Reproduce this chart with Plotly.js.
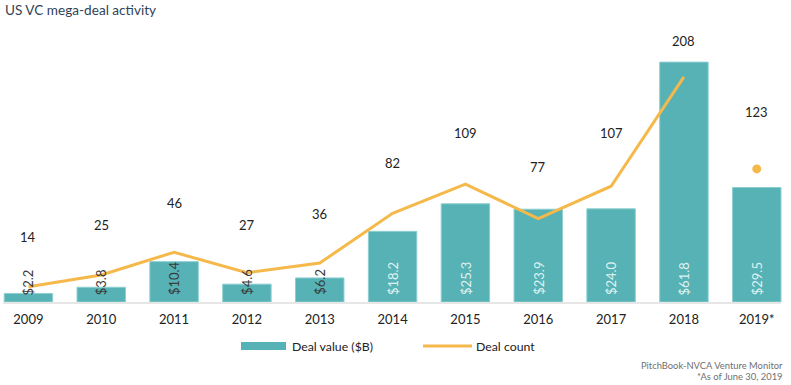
<!DOCTYPE html>
<html>
<head>
<meta charset="utf-8">
<script src="https://cdn.plot.ly/plotly-3.0.1.min.js"></script>
<style>html,body{margin:0;padding:0;background:#fff;}#chart{width:791px;height:385px;}</style>
</head>
<body>
<div id="chart"></div>
<script>
// ---- data ----
const years = ['2009','2010','2011','2012','2013','2014','2015','2016','2017','2018','2019*'];
const dealValue = [2.2, 3.8, 10.4, 4.6, 6.2, 18.2, 25.3, 23.9, 24.0, 61.8, 29.5];
const dealCount = [14, 25, 46, 27, 36, 82, 109, 77, 107, 208, 123];
// style: pixel lift of each count label above its point
const countLabelLift = [50, 50, 49, 48, 49, 50, 51, 52, 53, 36, 57];

const TEAL = '#56b2b4';
const GOLD = '#f5b94b';
const FONT = 'Lato, "Open Sans", sans-serif';
const W = 791, H = 385, PLOT_BOTTOM = 302;
const px2x = p => p / W;
const py2y = p => (PLOT_BOTTOM - p) / PLOT_BOTTOM;

const nLine = dealCount.length - 1; // line stops at 2018; 2019 is a partial-year dot

const traces = [
  {
    type: 'bar', x: years, y: dealValue, name: 'Deal value ($B)',
    marker: {color: TEAL, line: {color: '#8dcfd0', width: 1}},
    width: 0.665, hoverinfo: 'x+y', showlegend: false
  },
  {
    type: 'scatter', mode: 'lines', x: years.slice(0, nLine), y: dealCount.slice(0, nLine),
    yaxis: 'y2', name: 'Deal count', line: {color: GOLD, width: 3}, showlegend: false
  },
  {
    type: 'scatter', mode: 'markers', x: years.slice(nLine), y: dealCount.slice(nLine),
    yaxis: 'y2', marker: {color: GOLD, size: 9}, showlegend: false
  }
];

const annotations = [];
// count labels (x given as category index)
years.forEach((yr, i) => {
  annotations.push({
    x: i, y: dealCount[i], xref: 'x', yref: 'y2', text: String(dealCount[i]),
    showarrow: false, yshift: countLabelLift[i], yanchor: 'middle',
    font: {family: FONT, size: 13, color: '#222'}
  });
});
// value labels inside bars
years.forEach((yr, i) => {
  annotations.push({
    x: i, y: 0, xref: 'x', yref: 'y', text: '$' + dealValue[i].toFixed(1),
    showarrow: false, textangle: -90, yanchor: 'bottom', yshift: 5,
    font: {family: FONT, size: 13, color: dealValue[i] > 15 ? 'rgba(240,250,250,0.9)' : '#3a3a3a'}
  });
});
// title
annotations.push({
  xref: 'paper', yref: 'paper', x: px2x(3), y: py2y(10), xanchor: 'left', yanchor: 'middle',
  text: 'US VC mega-deal activity', showarrow: false,
  font: {family: FONT, size: 13.6, color: '#2f4358'}
});
// legend texts
annotations.push({
  xref: 'paper', yref: 'paper', x: px2x(290), y: py2y(346), xanchor: 'left', yanchor: 'middle',
  text: 'Deal value ($B)', showarrow: false, font: {family: FONT, size: 12.3, color: '#222'}
});
annotations.push({
  xref: 'paper', yref: 'paper', x: px2x(474), y: py2y(346), xanchor: 'left', yanchor: 'middle',
  text: 'Deal count', showarrow: false, font: {family: FONT, size: 12.3, color: '#222'}
});
// source
annotations.push({
  xref: 'paper', yref: 'paper', x: px2x(785), y: py2y(365), xanchor: 'right', yanchor: 'middle',
  text: 'PitchBook-NVCA Venture Monitor', showarrow: false, font: {family: FONT, size: 9.4, color: '#707070'}
});
annotations.push({
  xref: 'paper', yref: 'paper', x: px2x(785), y: py2y(376), xanchor: 'right', yanchor: 'middle',
  text: '*As of June 30, 2019', showarrow: false, font: {family: FONT, size: 9.4, color: '#707070'}
});

const shapes = [
  // baseline
  {type: 'line', xref: 'paper', yref: 'paper', x0: px2x(3), x1: px2x(781), y0: py2y(303), y1: py2y(303),
   line: {color: '#e6e6e6', width: 2}, layer: 'below'},
  // legend swatches
  {type: 'rect', xref: 'paper', yref: 'paper', x0: px2x(241), x1: px2x(286), y0: py2y(342), y1: py2y(350),
   fillcolor: TEAL, line: {width: 0}},
  {type: 'line', xref: 'paper', yref: 'paper', x0: px2x(423), x1: px2x(472), y0: py2y(346), y1: py2y(346),
   line: {color: GOLD, width: 3}}
];

const layout = {
  width: W, height: H,
  margin: {l: 0, r: 0, t: 0, b: H - PLOT_BOTTOM, pad: 0},
  paper_bgcolor: '#fff', plot_bgcolor: '#fff',
  showlegend: false,
  xaxis: {
    type: 'category', range: [-0.39, 10.47], showgrid: false, zeroline: false, showline: false,
    ticks: '', tickfont: {family: FONT, size: 13, color: '#222'}, ticklabelstandoff: 8
  },
  yaxis: {range: [0, 77.8], visible: false, fixedrange: true},
  yaxis2: {range: [0, 279.1], overlaying: 'y', side: 'right', visible: false},
  annotations: annotations,
  shapes: shapes
};

Plotly.newPlot('chart', traces, layout, {displayModeBar: false, staticPlot: true});
</script>
</body>
</html>
